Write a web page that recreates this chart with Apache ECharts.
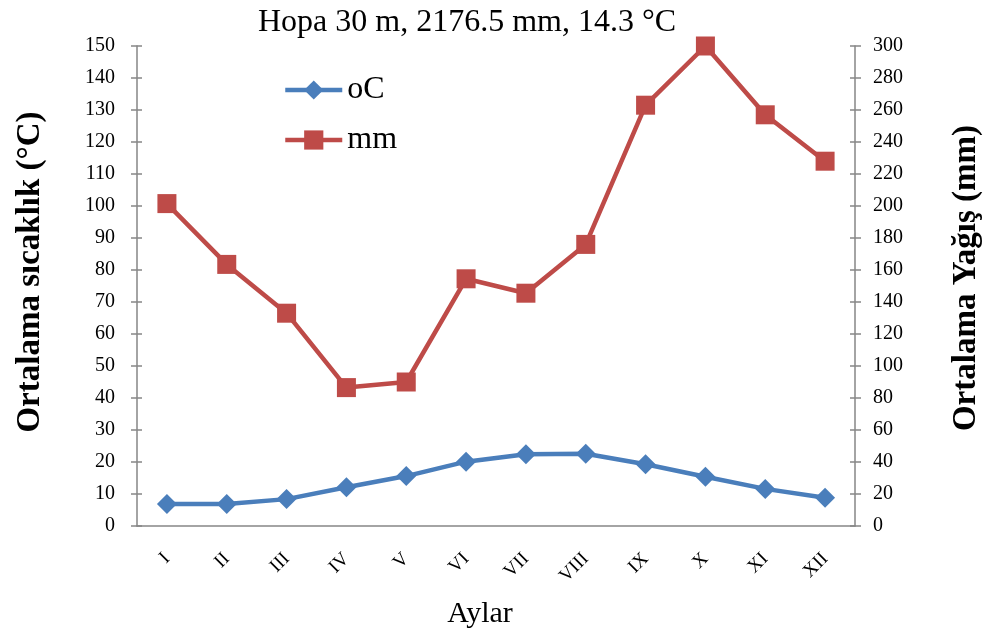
<!DOCTYPE html>
<html><head><meta charset="utf-8">
<script src="https://cdn.jsdelivr.net/npm/echarts@6/dist/echarts.min.js"></script>
<style>html,body{margin:0;padding:0;background:#fff}#c{width:985px;height:637px}</style>
</head><body><div id="c"></div>
<script>
var months = ['I','II','III','IV','V','VI','VII','VIII','IX','X','XI','XII'];
var tempC = [6.9, 6.9, 8.4, 12.1, 15.6, 20.1, 22.4, 22.6, 19.3, 15.4, 11.6, 8.8];
var rainMm = [201.5, 163.5, 133, 86.5, 90, 154.5, 145.5, 176, 263, 300, 257, 228];
var titleText = 'Hopa 30 m, 2176.5 mm, 14.3 °C';
var leftName = 'Ortalama sıcaklık (°C)';
var rightName = 'Ortalama Yağış (mm)';
var xName = 'Aylar';

var F = '"Liberation Serif","Times New Roman",serif';
var axisGray = '#868686';
var tickStyle = {color: axisGray, width: 1.5};
function innerY(pos, max, interval) {
  return {type: 'value', min: 0, max: max, interval: interval, position: pos,
    axisLine: {show: false}, axisLabel: {show: false}, splitLine: {show: false},
    axisTick: {show: true, inside: true, length: 5, lineStyle: tickStyle}};
}
var chart = echarts.init(document.getElementById('c'));
chart.setOption({
  animation: false,
  textStyle: {fontFamily: F},
  title: {text: titleText, left: 462, textAlign: 'center', top: 2,
    textStyle: {fontFamily: F, fontSize: 32, fontWeight: 'normal', color: '#000'}},
  legend: {orient: 'vertical', left: 283, top: 74, padding: 0, itemWidth: 57, itemHeight: 24, itemGap: 18,
    textStyle: {fontFamily: F, fontSize: 32, color: '#000'},
    lineStyle: {width: 4.5},
    data: ['oC', 'mm']},
  grid: {left: 137, right: 130, top: 46, bottom: 111, containLabel: false, outerBoundsMode: 'none'},
  xAxis: [
    {type: 'category', data: months, boundaryGap: true,
      name: xName, nameLocation: 'middle', nameGap: 73,
      nameTextStyle: {fontFamily: F, fontSize: 30, color: '#000', padding: [0, 32, 0, 0]},
      axisLine: {lineStyle: {color: axisGray, width: 1.5}},
      axisTick: {length: 6, lineStyle: tickStyle},
      axisLabel: {rotate: 45, margin: 30, fontFamily: F, fontSize: 19, color: '#000'}},
    {type: 'category', data: months, boundaryGap: true, position: 'bottom',
      axisLine: {show: false}, axisLabel: {show: false},
      axisTick: {inside: true, length: 6, lineStyle: tickStyle}}
  ],
  yAxis: [
    {type: 'value', min: 0, max: 150, interval: 10, position: 'left',
      name: leftName, nameLocation: 'middle', nameGap: 90, nameRotate: 90,
      nameTextStyle: {fontFamily: F, fontSize: 33, fontWeight: 'bold', color: '#000', padding: [0, 0, 0, 28]},
      axisLine: {show: true, lineStyle: {color: axisGray, width: 1.5}},
      axisTick: {show: true, length: 6, lineStyle: tickStyle},
      splitLine: {show: false},
      axisLabel: {fontFamily: F, fontSize: 20, color: '#000', margin: 22}},
    {type: 'value', min: 0, max: 300, interval: 20, position: 'right',
      name: rightName, nameLocation: 'middle', nameGap: 95, nameRotate: 90,
      nameTextStyle: {fontFamily: F, fontSize: 33, fontWeight: 'bold', color: '#000', padding: [0, 0, 0, 16]},
      axisLine: {show: true, lineStyle: {color: axisGray, width: 1.5}},
      axisTick: {show: true, length: 6, lineStyle: tickStyle},
      splitLine: {show: false},
      axisLabel: {fontFamily: F, fontSize: 20, color: '#000', margin: 18}},
    innerY('left', 150, 10),
    innerY('right', 300, 20)
  ],
  series: [
    {name: 'oC', type: 'line', yAxisIndex: 0, data: tempC,
      symbol: 'diamond', symbolSize: 20,
      lineStyle: {color: '#4A7EBB', width: 4.5},
      itemStyle: {color: '#4A7EBB'}},
    {name: 'mm', type: 'line', yAxisIndex: 1, data: rainMm,
      symbol: 'rect', symbolSize: 19,
      lineStyle: {color: '#BE4B48', width: 4.5},
      itemStyle: {color: '#BE4B48'}}
  ]
});
</script></body></html>
